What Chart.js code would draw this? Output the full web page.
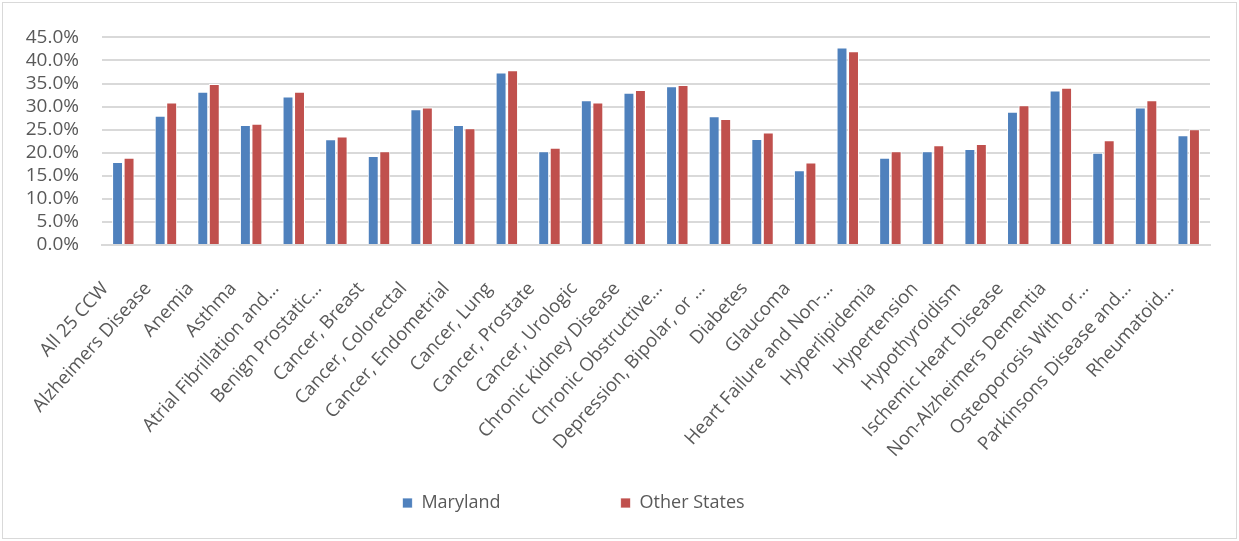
<!DOCTYPE html>
<html>
<head>
<meta charset="utf-8">
<script src="https://cdn.jsdelivr.net/npm/chart.js@4/dist/chart.umd.min.js"></script>
<style>
  html, body { margin: 0; padding: 0; background: #fff; }
  #wrap {
    position: absolute; left: 2px; top: 2px;
    width: 1233px; height: 535px;
    border: 1px solid #d9d9d9;
  }
</style>
</head>
<body>
<div id="wrap"><canvas id="chart"></canvas></div>
<script>
// conditions (x axis)
const conditions = [
    'All 25 CCW', 'Alzheimers Disease', 'Anemia', 'Asthma',
    'Atrial Fibrillation and…', 'Benign Prostatic…', 'Cancer, Breast',
    'Cancer, Colorectal', 'Cancer, Endometrial', 'Cancer, Lung',
    'Cancer, Prostate', 'Cancer, Urologic', 'Chronic Kidney Disease',
    'Chronic Obstructive…', 'Depression, Bipolar, or …', 'Diabetes',
    'Glaucoma', 'Heart Failure and Non-…', 'Hyperlipidemia', 'Hypertension',
    'Hypothyroidism', 'Ischemic Heart Disease', 'Non-Alzheimers Dementia',
    'Osteoporosis With or…', 'Parkinsons Disease and…', 'Rheumatoid…'
];

// percent values
const maryland = [
    18.0, 28.0, 33.2, 26.0, 32.2, 22.9, 19.3, 29.4, 26.0, 37.4,
    20.3, 31.4, 33.0, 34.4, 27.9, 23.0, 16.2, 42.8, 18.9, 20.3,
    20.8, 28.9, 33.5, 20.0, 29.8, 23.8
];
const otherStates = [
    18.9, 30.9, 34.9, 26.3, 33.2, 23.5, 20.3, 29.8, 25.3, 37.9,
    21.1, 30.9, 33.6, 34.7, 27.3, 24.4, 17.9, 42.0, 20.3, 21.6,
    21.9, 30.3, 34.1, 22.7, 31.4, 25.1
];

const yMax = 45;
const yStep = 5;

const textColor = '#595959';
const gridColor = '#d9d9d9';

// legend sits a bit left of centre, and the long rotated labels
// run down into the legend's band, so let the x scale reach that far
const tweakLayout = {
    id: 'tweakLayout',
    afterLayout(chart) {
        chart.legend.left -= 37;
        chart.legend.right -= 37;
        const x = chart.scales.x;
        x.bottom = x.top + 240;
        x.height = 240;
    }
};

new Chart(document.getElementById('chart'), {
    type: 'bar',
    data: {
        labels: conditions,
        datasets: [{
            label: 'Maryland',
            data: maryland,
            backgroundColor: '#4f81bd',
            borderColor: '#ffffff',
            borderWidth: { left: 1, right: 1, top: 1, bottom: 0 }
        }, {
            label: 'Other States',
            data: otherStates,
            backgroundColor: '#c0504d',
            borderColor: '#ffffff',
            borderWidth: { left: 1, right: 1, top: 1, bottom: 0 }
        }]
    },
    plugins: [tweakLayout],
    options: {
        responsive: true,
        maintainAspectRatio: false,
        animation: false,
        layout: { padding: { left: 8, right: 26, top: 28, bottom: 16 } },
        datasets: {
            bar: { categoryPercentage: 0.54, barPercentage: 0.95 }
        },
        plugins: {
            legend: {
                position: 'bottom',
                labels: {
                    color: textColor,
                    font: { family: 'Open Sans', size: 18 },
                    boxWidth: 10,
                    boxHeight: 10,
                    padding: 120
                }
            },
            tooltip: { enabled: false }
        },
        scales: {
            x: {
                grid: { display: false },
                border: { color: gridColor, width: 2 },
                ticks: {
                    color: textColor,
                    font: { family: 'Open Sans', size: 18.5 },
                    maxRotation: 48,
                    minRotation: 48,
                    autoSkip: false,
                    padding: 25,
                    labelOffset: -18
                },
                afterFit: s => { s.height = 129; }
            },
            y: {
                min: 0,
                max: yMax,
                grid: { color: gridColor, lineWidth: 2, drawTicks: false },
                border: { display: false },
                ticks: {
                    stepSize: yStep,
                    autoSkip: false,
                    color: textColor,
                    font: { family: 'Open Sans', size: 19 },
                    padding: 23,
                    callback: v => v.toFixed(1) + '%'
                },
                afterFit: s => { s.width = 91; }
            }
        }
    }
});
</script>
</body>
</html>
